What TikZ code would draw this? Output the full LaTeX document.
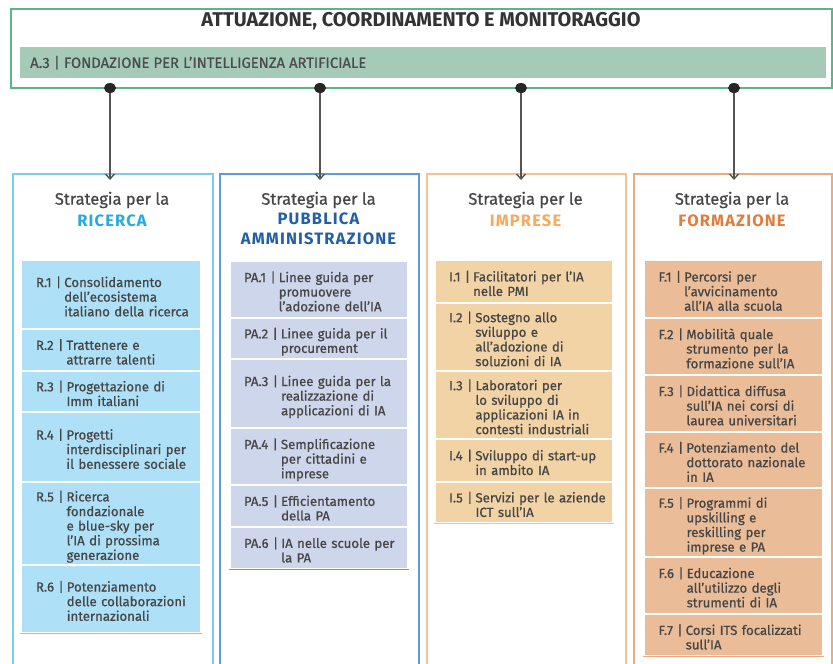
\documentclass[tikz,border=0pt]{standalone}
\usepackage{fontspec}
\setmainfont{Fira Sans}[UprightFeatures={FakeBold=0.7}]
\usetikzlibrary{arrows.meta}
\definecolor{topgreen}{RGB}{90,180,140}
\definecolor{bandgreen}{RGB}{165,203,184}
\definecolor{cAbord}{RGB}{120,205,240}
\definecolor{cAfill}{RGB}{174,224,247}
\definecolor{cAhead}{RGB}{40,170,225}
\definecolor{cBbord}{RGB}{95,155,215}
\definecolor{cBfill}{RGB}{206,214,235}
\definecolor{cBhead}{RGB}{35,95,165}
\definecolor{cCbord}{RGB}{245,195,145}
\definecolor{cCfill}{RGB}{241,211,166}
\definecolor{cChead}{RGB}{245,170,95}
\definecolor{cDbord}{RGB}{236,170,130}
\definecolor{cDfill}{RGB}{234,188,152}
\definecolor{cDhead}{RGB}{225,125,60}
\definecolor{txt}{RGB}{70,70,70}
\definecolor{conn}{RGB}{85,85,85}
\newcommand\itx[2]{\raisebox{-4pt}[\height][\depth]{\begin{tabular}{@{}l@{\hspace{3pt}}l@{}}#1&#2\end{tabular}}}
\newcommand\mkitem[7]{\node[itembox, fill=#6, minimum width=#3, minimum height={#5-#4}] (#1) at (#2,{(#4+#5)/2}) {#7};}
\begin{document}
\begin{tikzpicture}[x=1pt,y=-1pt,
  itembox/.style={rectangle, draw=white, line width=1.2pt, inner xsep=14pt, inner ysep=0pt,
    text width=150pt, align=left, text=txt, font=\fontsize{13.2}{14.5}\selectfont},
  colbox/.style={rectangle, line width=1.5pt, anchor=north west, minimum height=520, inner sep=0pt},
  stratx/.style={text=txt, font=\fontsize{16.5}{18}\selectfont, inner sep=0pt},
  headx/.style={font=\fontsize{16.5}{20}\selectfont\bfseries\addfontfeature{LetterSpace=7}, inner sep=0pt, align=center},
  dotx/.style={fill=black!85},
  connx/.style={draw=conn, line width=1.4pt, -{Straight Barb[length=5pt,width=9pt]}, shorten >=-7pt}
]
\useasboundingbox (0,0) rectangle (833,664);
\clip (0,0) rectangle (833,664);
\fill[white] (0,0) rectangle (833,664);

% top block
\node[draw=topgreen, line width=1.6pt, anchor=north west, minimum width=821, minimum height=79, inner sep=0pt] (top) at (10,8) {};
\node[text=black!80, inner sep=0pt] (title) at (421,21) {\resizebox{439pt}{!}{\fontsize{18}{20}\selectfont\bfseries ATTUAZIONE, COORDINAMENTO E MONITORAGGIO}};
\node[fill=bandgreen, anchor=north west, minimum height=31, inner xsep=10pt, inner ysep=0pt, text width=786pt, align=left, text=black!70] (a3) at (20,47) {\resizebox{336pt}{!}{\fontsize{12}{14}\selectfont A.3 | FONDAZIONE PER L’INTELLIGENZA ARTIFICIALE}};

% columns
\node[colbox, draw=cAbord, minimum width=200] (c1) at (12,173) {};
\node[colbox, draw=cBbord, minimum width=199] (c2) at (219,173) {};
\node[colbox, draw=cCbord, minimum width=199] (c3) at (426,173) {};
\node[colbox, draw=cDbord, minimum width=198] (c4) at (633,173) {};

% headers
\node[stratx] (s1) at (112,200) {Strategia per la};
\node[headx, text=cAhead] (k1) at (112,221) {RICERCA};
\node[stratx] (s2) at (318.5,200) {Strategia per la};
\node[headx, text=cBhead] (k2) at (318.5,229) {PUBBLICA\\AMMINISTRAZIONE};
\node[stratx] (s3) at (525.5,200) {Strategia per le};
\node[headx, text=cChead] (k3) at (525.5,221) {IMPRESE};
\node[stratx] (s4) at (732,200) {Strategia per la};
\node[headx, text=cDhead] (k4) at (732,221) {FORMAZIONE};

% connectors
\coordinate (d1) at (110,88);
\coordinate (d2) at (320,88);
\coordinate (d3) at (521,88);
\coordinate (d4) at (734,88);
\foreach \i in {1,2,3,4}{
  \draw[connx] (d\i) -- (d\i |- c\i.north);
  \fill[dotx] (d\i) ellipse (6pt and 5pt);
}

% Ricerca items
\mkitem{r1}{111}{180}{260}{329}{cAfill}{\itx{R.1 |}{Consolidamento\\&dell’ecosistema\\&italiano della ricerca}}
\mkitem{r2}{111}{180}{329}{371}{cAfill}{\itx{R.2 |}{Trattenere e\\&attrarre talenti}}
\mkitem{r3}{111}{180}{371}{412}{cAfill}{\itx{R.3 |}{Progettazione di\\&Imm italiani}}
\mkitem{r4}{111}{180}{412}{482}{cAfill}{\itx{R.4 |}{Progetti\\&interdisciplinari per\\&il benessere sociale}}
\mkitem{r5}{111}{180}{482}{565}{cAfill}{\itx{R.5 |}{Ricerca\\&fondazionale\\&e blue-sky per\\&l’IA di prossima\\&generazione}}
\mkitem{r6}{111}{180}{565}{633}{cAfill}{\itx{R.6 |}{Potenziamento\\&delle collaborazioni\\&internazionali}}
\draw[cAbord, line width=1pt] (r6.south west) -- (r6.south east);

% PA items
\mkitem{p1}{319}{178}{261}{318}{cBfill}{\itx{PA.1 |}{Linee guida per\\&promuovere\\&l’adozione dell’IA}}
\mkitem{p2}{319}{178}{318}{359}{cBfill}{\itx{PA.2 |}{Linee guida per il\\&procurement}}
\mkitem{p3}{319}{178}{359}{428}{cBfill}{\itx{PA.3 |}{Linee guida per la\\&realizzazione di\\&applicazioni di IA}}
\mkitem{p4}{319}{178}{428}{485}{cBfill}{\itx{PA.4 |}{Semplificazione\\&per cittadini e\\&imprese}}
\mkitem{p5}{319}{178}{485}{527}{cBfill}{\itx{PA.5 |}{Efficientamento\\&della PA}}
\mkitem{p6}{319}{178}{527}{569}{cBfill}{\itx{PA.6 |}{IA nelle scuole per\\&la PA}}
\draw[cBbord, line width=1.2pt] (p6.south west) -- (p6.south east);

% Imprese items
\mkitem{i1}{524}{178}{260}{303}{cCfill}{\itx{I.1 |}{Facilitatori per l’IA\\&nelle PMI}}
\mkitem{i2}{524}{178}{303}{371}{cCfill}{\itx{I.2 |}{Sostegno allo\\&sviluppo e\\&all’adozione di\\&soluzioni di IA}}
\mkitem{i3}{524}{178}{371}{439}{cCfill}{\itx{I.3 |}{Laboratori per\\&lo sviluppo di\\&applicazioni IA in\\&contesti industriali}}
\mkitem{i4}{524}{178}{439}{482}{cCfill}{\itx{I.4 |}{Sviluppo di start-up\\&in ambito IA}}
\mkitem{i5}{524}{178}{482}{523}{cCfill}{\itx{I.5 |}{Servizi per le aziende\\&ICT sull’IA}}
\draw[cCbord, line width=1pt] (i5.south west) -- (i5.south east);

% Formazione items
\mkitem{f1}{733.5}{179}{260}{318}{cDfill}{\itx{F.1 |}{Percorsi per\\&l’avvicinamento\\&all’IA alla scuola}}
\mkitem{f2}{733.5}{179}{318}{375}{cDfill}{\itx{F.2 |}{Mobilità quale\\&strumento per la\\&formazione sull’IA}}
\mkitem{f3}{733.5}{179}{375}{432}{cDfill}{\itx{F.3 |}{Didattica diffusa\\&sull’IA nei corsi di\\&laurea universitari}}
\mkitem{f4}{733.5}{179}{432}{488}{cDfill}{\itx{F.4 |}{Potenziamento del\\&dottorato nazionale\\&in IA}}
\mkitem{f5}{733.5}{179}{488}{557}{cDfill}{\itx{F.5 |}{Programmi di\\&upskilling e\\&reskilling per\\&imprese e PA}}
\mkitem{f6}{733.5}{179}{557}{614}{cDfill}{\itx{F.6 |}{Educazione\\&all’utilizzo degli\\&strumenti di IA}}
\mkitem{f7}{733.5}{179}{614}{656}{cDfill}{\itx{F.7 |}{Corsi ITS focalizzati\\&sull’IA}}
\draw[cDbord, line width=1pt] (f7.south west) -- (f7.south east);
\end{tikzpicture}
\end{document}
